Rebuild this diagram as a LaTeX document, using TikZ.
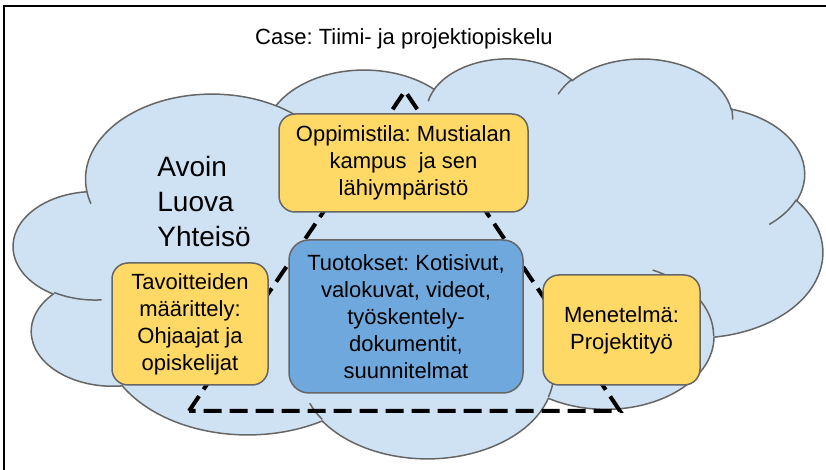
\documentclass[tikz,border=0pt]{standalone}
\usepackage{fontspec}
\setmainfont{Liberation Sans}
\frenchspacing
\definecolor{pilvi}{HTML}{CFE2F3}
\definecolor{reuna}{HTML}{666666}
\definecolor{keltainen}{HTML}{FFD966}
\definecolor{sininen}{HTML}{6FA8DC}
\tikzset{
  cloudarc/.style n args={4}{insert path={arc[start angle={atan2((#1)*sin(#3),(#2)*cos(#3))},
    delta angle={mod(atan2((#1)*sin((#3)+(#4)),(#2)*cos((#3)+(#4)))-atan2((#1)*sin(#3),(#2)*cos(#3))+720,360)},
    x radius=#1, y radius=#2]}},
  pilviviiva/.style={draw=reuna, line width=0.75pt},
  laatikko/.style={draw=reuna, line width=0.75pt, fill=keltainen, rounded corners=8pt, align=center,
    inner sep=0pt, font=\fontsize{11}{13.5}\selectfont},
  kolmio/.style={line width=2pt, dash pattern=on 9pt off 4pt}
}

\begin{document}
\begin{tikzpicture}[x=0.5pt,y=-0.5pt]
\useasboundingbox (0,0) rectangle (826,470);
\draw[line width=1pt] (4,470) -- (4,6) -- (826,6);

% pilvi
\begin{scope}[xshift=6.83pt, yshift=-28.8pt, x=0.93625pt, y=-0.46275pt]
\path[pilviviiva, fill=pilvi] (39.00,143.70)
  [cloudarc={67.53}{91.90}{-190.487}{123.781}]
  [cloudarc={53.33}{72.67}{-144.102}{89.945}]
  [cloudarc={43.65}{59.45}{-145.808}{99.723}]
  [cloudarc={48.57}{65.95}{-130.986}{117.242}]
  [cloudarc={53.33}{72.73}{-78.709}{109.027}]
  [cloudarc={67.75}{92.20}{-46.267}{130.269}]
  [cloudarc={57.85}{78.67}{0.625}{114.033}]
  [cloudarc={67.52}{92.15}{22.452}{115.173}]
  [cloudarc={77.20}{105.43}{66.243}{75.711}]
  [cloudarc={43.60}{59.18}{-274.942}{146.736}]
  [cloudarc={43.45}{59.45}{-246.829}{152.519}] -- cycle;
\path[pilviviiva]
  (46.93,261.77) [cloudarc={43.45}{59.45}{86.742}{26.430}]
  (69.28,348.99) [cloudarc={43.60}{59.18}{73.610}{11.447}]
  (164.78,390.90) [cloudarc={67.52}{92.15}{137.624}{14.081}]
  (288.27,347.51) [cloudarc={67.52}{92.15}{6.453}{15.998}]
  (341.29,229.54) [cloudarc={57.85}{78.67}{-70.292}{70.918}]
  (417.98,153.54) [cloudarc={53.33}{72.73}{30.318}{27.752}]
  (383.24,54.26) [cloudarc={48.57}{65.95}{-13.744}{14.859}]
  (290.78,39.52) [cloudarc={48.57}{65.95}{-149.181}{18.195}]
  (221.41,47.20) [cloudarc={43.65}{59.45}{-163.494}{17.686}]
  (140.00,51.92) [cloudarc={67.53}{91.90}{-66.707}{12.319}]
  (41.27,157.89) [cloudarc={67.53}{91.90}{157.654}{11.858}];
\end{scope}

\coordinate (A) at (405,91); \coordinate (B) at (620,411); \coordinate (C) at (189,411);
\draw[kolmio] (C) -- (A) -- (B) -- cycle;

\node[anchor=base, font=\fontsize{11}{13.5}\selectfont] (otsikko) at (404,45) {Case: Tiimi- ja projektiopiskelu};
\node[anchor=north west, align=left, inner sep=0pt, font=\fontsize{14}{17.5}\selectfont] (yhteiso) at (157,156) {Avoin\\Luova\\Yhteisö};

\node[laatikko, minimum width=124.5pt, minimum height=49pt] (oppimistila) at (403.5,163)
  {Oppimistila: Mustialan\\kampus\ \ ja sen\\lähiympäristö};
\node[laatikko, minimum width=78pt, minimum height=61pt] (tavoitteet) at (190,324)
  {Tavoitteiden\\määrittely:\\Ohjaajat ja\\opiskelijat};
\node[laatikko, fill=sininen, rounded corners=10pt, minimum width=117pt, minimum height=76.5pt] (tuotokset) at (406,316.5)
  {Tuotokset: Kotisivut,\\valokuvat, videot,\\työskentely-\\dokumentit,\\suunnitelmat};
\node[laatikko, minimum width=78.5pt, minimum height=55pt] (menetelma) at (621.5,330)
  {Menetelmä:\\Projektityö};
\end{tikzpicture}
\end{document}
